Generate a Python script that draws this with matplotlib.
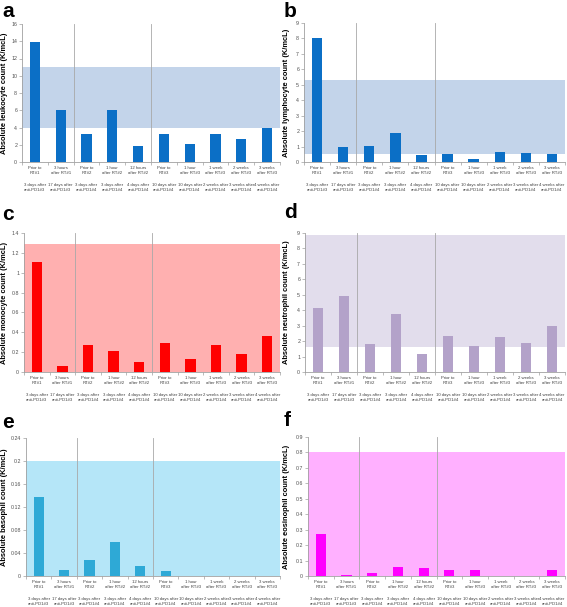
import matplotlib
matplotlib.use("Agg")
import matplotlib.pyplot as plt
import numpy as np

plt.rcParams['font.family'] = ['Liberation Sans', 'DejaVu Sans']

row1_labels = ["Prior to\nRT#1", "3 hours\nafter RT#1", "Prior to\nRT#2", "1 hour\nafter RT#2",
               "12 hours\nafter RT#2", "Prior to\nRT#3", "1 hour\nafter RT#3", "1 week\nafter RT#3",
               "2 weeks\nafter RT#3", "3 weeks\nafter RT#3"]
row2_labels = ["3 days after\nanti-PD1#3", "17 days after\nanti-PD1#3", "3 days after\nanti-PD1#4",
               "3 days after\nanti-PD1#4", "4 days after\nanti-PD1#4", "10 days after\nanti-PD1#4",
               "10 days after\nanti-PD1#4", "2 weeks after\nanti-PD1#4", "3 weeks after\nanti-PD1#4",
               "4 weeks after\nanti-PD1#4"]

leukocyte = [13.9, 6.0, 3.2, 6.0, 1.8, 3.2, 2.1, 3.2, 2.7, 4.0]
lymphocyte = [8.05, 1.0, 1.05, 1.9, 0.45, 0.55, 0.2, 0.65, 0.6, 0.55]
monocyte = [1.11, 0.065, 0.27, 0.21, 0.105, 0.29, 0.13, 0.27, 0.18, 0.36]
neutrophil = [4.15, 4.9, 1.82, 3.75, 1.15, 2.32, 1.7, 2.28, 1.9, 2.97]
basophil = [0.138, 0.011, 0.028, 0.059, 0.018, 0.009, 0.0, 0.0, 0.0, 0.0]
eosinophil = [0.275, 0.005, 0.018, 0.058, 0.052, 0.04, 0.038, 0.0, 0.0, 0.038]

normal_ranges = {
    'a': (4.0, 11.0), 'b': (0.52, 5.3), 'c': (0.0, 1.29),
    'd': (1.6, 8.87), 'e': (0.0, 0.2), 'f': (0.0, 0.8),
}

W, H = 567, 607
fig = plt.figure(figsize=(W / 100, H / 100), dpi=100)

panels = [
    ('a', leukocyte, 'Absolute leukocyte count (K/mcL)', 16, 2, '#0B6FC6', '#C3D4EA', (22, 280, 24, 162), (2, 2)),
    ('b', lymphocyte, 'Absolute lymphocyte count (K/mcL)', 9, 1, '#0B6FC6', '#C3D4EA', (304, 565, 23, 162), (284, 2)),
    ('c', monocyte, 'Absolute monocyte count (K/mcL)', 1.4, 0.2, '#FF0000', '#FFB0B0', (24, 280, 233, 372), (2, 205)),
    ('d', neutrophil, 'Absolute neutrophil count (K/mcL)', 9, 1, '#B3A2C9', '#E2DDEC', (305, 565, 233, 372), (284, 203)),
    ('e', basophil, 'Absolute basophil count (K/mcL)', 0.24, 0.04, '#2EA9D6', '#B5E6F8', (26, 280, 438, 576), (2, 413)),
    ('f', eosinophil, 'Absolute eosinophil count (K/mcL)', 0.9, 0.1, '#FF00FF', '#FFB0FF', (308, 565, 437, 576), (284, 411)),
]

x = np.arange(len(row1_labels))
for letter, data, ylabel, ymax, ystep, bc, band, (l, r, t, b), (lx, ly) in panels:
    ax = fig.add_axes([l / W, 1 - b / H, (r - l) / W, (b - t) / H])
    lo, hi = normal_ranges[letter]
    ax.axhspan(lo, hi, color=band, zorder=0, lw=0)
    ax.bar(x, data, width=0.4, color=bc, zorder=2)
    for sep in (1.5, 4.5):
        ax.axvline(sep, color='#A8A8A8', lw=0.6, zorder=1)
    ax.set_xlim(-0.5, 9.5)
    ax.set_ylim(0, ymax)
    yt = np.round(np.arange(0, ymax + ystep / 2, ystep), 4)
    ax.set_yticks(yt)
    ax.set_yticklabels([('%g' % v) for v in yt], fontsize=3.8, color='#505050')
    ax.set_xticks(x)
    ax.set_xticklabels(row1_labels, fontsize=3.1, color='#404040', linespacing=1.35)
    ax.set_xticks(np.arange(-0.5, 10, 1), minor=True)
    ax.tick_params(axis='x', which='major', length=0, pad=3)
    ax.tick_params(axis='x', which='minor', length=2, width=0.5, color='#A0A0A0')
    ax.tick_params(axis='y', length=2, width=0.5, color='#A0A0A0', pad=1.5)
    for xi, lab in zip(x, row2_labels):
        ax.annotate(lab, xy=(xi, 0), xycoords=('data', 'axes fraction'), xytext=(0, -15),
                    textcoords='offset points', ha='center', va='top', fontsize=3.1,
                    color='#404040', linespacing=1.35)
    for s in ('top', 'right'):
        ax.spines[s].set_visible(False)
    for s in ('left', 'bottom'):
        ax.spines[s].set_color('#A0A0A0')
        ax.spines[s].set_linewidth(0.6)
    ax.set_ylabel(ylabel, fontsize=5.4, fontweight='bold')
    ax.yaxis.set_label_coords((lx + 6 - l) / (r - l), 0.5)
    fig.text(lx / W, 1 - ly / H, letter, fontsize=15, fontweight='bold', ha='left', va='top')

fig.savefig('out.png', dpi=100)
